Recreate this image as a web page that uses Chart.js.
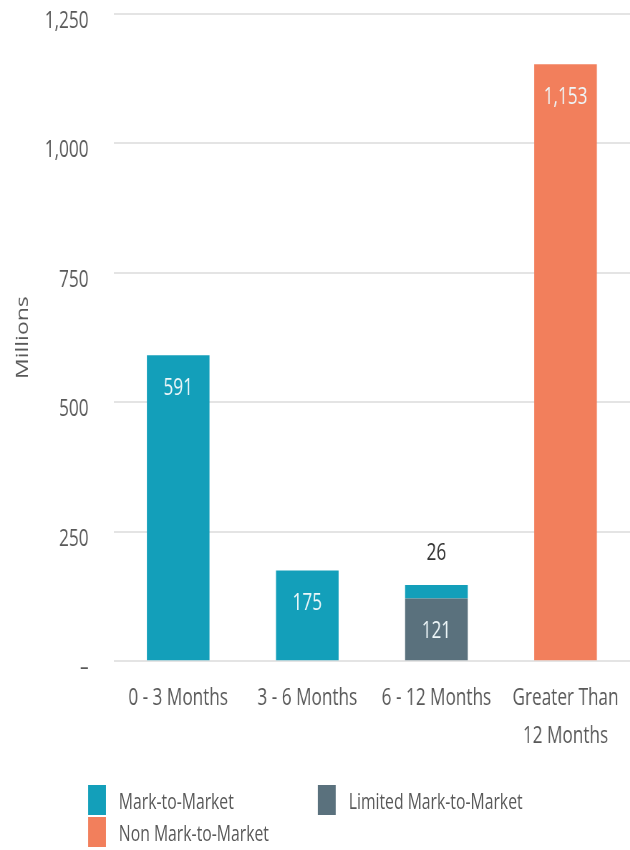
<!DOCTYPE html>
<html>
<head>
<meta charset="utf-8">
<script src="https://cdn.jsdelivr.net/npm/chart.js@4"></script>
<style>
  body { margin: 0; background: #fff; font-family: "Open Sans", sans-serif; overflow: hidden; }
  /* the reference is a horizontally squeezed picture, so draw wide and squeeze */
  #wrap { position: relative; width: 880px; height: 850px; transform: scaleX(0.716); transform-origin: 0 0; }
  #legend { position: absolute; left: 123px; top: 785px; display: grid; grid-template-columns: 321px 321px; row-gap: 2px; }
  .item { display: flex; align-items: center; height: 30px; font-size: 22px; color: #595959; white-space: nowrap; }
  .box { width: 25px; height: 30px; margin-right: 18px; }
</style>
</head>
<body>
<div id="wrap">
  <canvas id="myChart" width="880" height="767"></canvas>
  <div id="legend"></div>
</div>
<script>
var categories = ["0 - 3 Months", "3 - 6 Months", "6 - 12 Months", ["Greater Than", "12 Months"]];
var markToMarket = [591, 175, 26, 0];
var limitedMtm = [0, 0, 121, 0];
var nonMtm = [0, 0, 0, 1153];
var yTicks = [0, 250, 500, 750, 1000, 1250];

var teal = "#139fba";
var slate = "#5a717d";
var orange = "#f27f5c";
var textGrey = "#595959";

// legend order differs from stack order (limited sits at the bottom)
var legendItems = [
    { label: "Mark-to-Market", color: teal },
    { label: "Limited Mark-to-Market", color: slate },
    { label: "Non Mark-to-Market", color: orange }
];

var legend = document.getElementById('legend');
legendItems.forEach(function (it) {
    var d = document.createElement('div');
    d.className = 'item';
    d.innerHTML = '<span class="box" style="background:' + it.color + '"></span>' + it.label;
    legend.appendChild(d);
});

var valueLabels = {
    id: 'valueLabels',
    afterDatasetsDraw: function (chart) {
        var ctx = chart.ctx;
        ctx.save();
        ctx.font = '24px "Open Sans"';
        ctx.textAlign = 'center';
        ctx.textBaseline = 'middle';
        chart.data.datasets.forEach(function (ds, i) {
            var meta = chart.getDatasetMeta(i);
            meta.data.forEach(function (bar, j) {
                var v = ds.data[j];
                if (!v) return;
                var txt = v.toLocaleString('en-US');
                var h = bar.base - bar.y;
                if (h < 40) {
                    ctx.fillStyle = "#333333";
                    ctx.fillText(txt, bar.x, bar.y - 32);
                } else {
                    ctx.fillStyle = "#eef7f9";
                    ctx.fillText(txt, bar.x, bar.y + 33);
                }
            });
        });
        ctx.restore();
    }
};

new Chart(document.getElementById("myChart"), {
    type: 'bar',
    data: {
        labels: categories,
        datasets: [
            { label: "Limited Mark-to-Market", data: limitedMtm, backgroundColor: slate },
            { label: "Mark-to-Market", data: markToMarket, backgroundColor: teal },
            { label: "Non Mark-to-Market", data: nonMtm, backgroundColor: orange }
        ]
    },
    options: {
        responsive: false,
        animation: false,
        barPercentage: 0.485,
        categoryPercentage: 1,
        layout: { padding: { top: 0, right: -4, left: 10, bottom: 2 } },
        plugins: {
            legend: { display: false },
            tooltip: { enabled: false }
        },
        scales: {
            x: {
                stacked: true,
                grid: { display: false },
                border: { display: false },
                ticks: { color: textGrey, font: { family: "Open Sans", size: 24, lineHeight: 1.58 }, padding: 10, maxRotation: 0, autoSkip: false }
            },
            y: {
                stacked: true,
                min: 0,
                max: 1250,
                afterBuildTicks: function (axis) {
                    axis.ticks = yTicks.map(function (v) { return { value: v }; });
                },
                // invisible ticks give the label gap without the extra vertical padding
                grid: { color: "#e4e4e4", lineWidth: 2, drawTicks: true, tickLength: 33, tickColor: 'rgba(0,0,0,0)' },
                border: { display: false },
                ticks: {
                    color: textGrey,
                    font: { family: "Open Sans", size: 24, lineHeight: 1 },
                    padding: 2,
                    labelOffset: 7,
                    callback: function (v) { return v === 0 ? '–' : v.toLocaleString('en-US'); }
                },
                title: { display: true, text: "Millions", color: textGrey, font: { family: "Open Sans", size: 23 }, padding: { top: 9, bottom: 14 } }
            }
        }
    },
    plugins: [valueLabels]
});
</script>
</body>
</html>
